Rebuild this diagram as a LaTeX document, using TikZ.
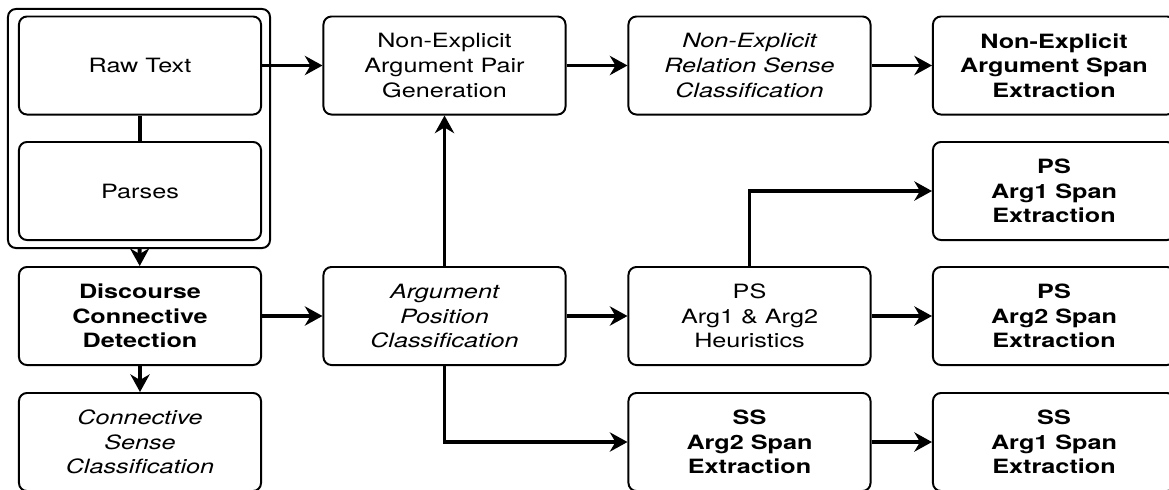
\documentclass[tikz,border=0pt]{standalone}
\usepackage{fontspec}
\setmainfont[FakeStretch=1.28]{TeX Gyre Heros}
\usetikzlibrary{positioning}
\usetikzlibrary{arrows.meta}
\newcommand{\boxfont}{\fontsize{14}{17.5}\selectfont}
\tikzset{
    box/.style = {rectangle, rounded corners=0.2cm, line width=1.4pt, draw=black, align=center, minimum width=6.05cm, minimum height=2.45cm, inner sep=0pt, font=\boxfont},
    boxb/.style = {box, font=\boxfont\bfseries},
    boxi/.style = {box, font=\boxfont\itshape},
    frame/.style = {rectangle, rounded corners=0.2cm, line width=1.4pt, draw=black, minimum width=6.55cm, minimum height=5.975cm, inner sep=0pt},
    edgen/.style = {-{Stealth[length=4.4mm,width=4.8mm,inset=1.4mm]}, line width=2.8pt},
    edgel/.style = {line width=2.8pt},
}

\begin{document}
\begin{tikzpicture}[x=0.025cm,y=-0.025cm]
\useasboundingbox (0,0) rectangle (1169,489);
\clip (0,0) rectangle (1169,489);
\node[frame] at (139.0, 128.5) (input) {};
\node[box] at (140.0, 65.5) (raw) {Raw Text};
\node[box] at (140.0, 191.0) (parses) {Parses};
\node[boxb] at (140.0, 316.0) (disc) {Discourse\\Connective\\Detection};
\node[boxi] at (140.0, 442.0) (connsense) {Connective\\Sense\\Classification};
\node[box] at (444.5, 65.5) (pairgen) {Non-Explicit\\Argument Pair\\Generation};
\node[boxi] at (444.5, 316.0) (argpos) {Argument\\Position\\Classification};
\node[boxi] at (749.5, 65.5) (relsense) {Non-Explicit\\Relation Sense\\Classification};
\node[box] at (749.5, 316.0) (psheur) {PS\\Arg1 \& Arg2\\Heuristics};
\node[boxb] at (749.5, 442.0) (ssarg2) {SS\\Arg2 Span\\Extraction};
\node[boxb] at (1054.0, 65.5) (nespan) {Non-Explicit\\Argument Span\\Extraction};
\node[boxb] at (1054.0, 191.0) (psarg1) {PS\\Arg1 Span\\Extraction};
\node[boxb] at (1054.0, 316.0) (psarg2) {PS\\Arg2 Span\\Extraction};
\node[boxb] at (1054.0, 442.0) (ssarg1) {SS\\Arg1 Span\\Extraction};
%
\draw[edgel] (raw) -- (parses);
\draw[edgen] (input) -- (disc);
\draw[edgen] (disc) -- (connsense);
\draw[edgen] (disc) -- (argpos);
\draw[edgen] (raw) -- (pairgen);
\draw[edgen] (argpos) -- (pairgen);
\draw[edgen] (argpos.south) |- (ssarg2.west);
\draw[edgen] (argpos) -- (psheur);
\draw[edgen] (pairgen) -- (relsense);
\draw[edgen] (relsense) -- (nespan);
\draw[edgen] (psheur.north) |- (psarg1.west);
\draw[edgen] (psheur) -- (psarg2);
\draw[edgen] (ssarg2) -- (ssarg1);
\end{tikzpicture}
\end{document}
